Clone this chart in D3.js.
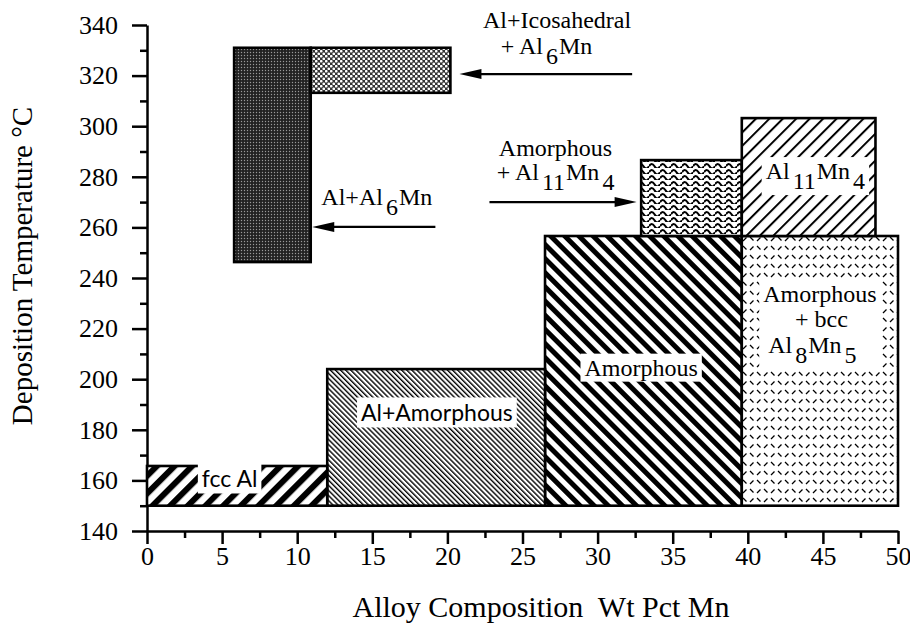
<!DOCTYPE html>
<html>
<head>
<meta charset="utf-8">
<script src="https://cdn.jsdelivr.net/npm/d3@7"></script>
<style>
  body { margin: 0; background: #fff; }
  svg { display: block; }
</style>
</head>
<body>
<svg id="chart" width="910" height="630"></svg>
<script>
// Phase fields observed after deposition (composition in wt% Mn, temperature in °C)
const phases   = ["Amorphous", "Amorphous + bcc Al8Mn5", "Al+Amorphous", "fcc Al",
                  "Amorphous + Al11Mn4", "Al11Mn4", "Al+Al6Mn", "Al+Icosahedral + Al6Mn"];
const wtFrom   = [26.5, 39.6, 12.0, 0.0, 32.9, 39.6, 5.8, 10.9];
const wtTo     = [39.6, 50.0, 26.5, 12.0, 39.6, 48.5, 10.9, 20.2];
const tempFrom = [150, 150, 150, 150, 256.6, 256.6, 246.3, 313.2];
const tempTo   = [256.6, 256.6, 204, 165.7, 286.6, 303.2, 331, 331];

// Arrows pointing from the phase names to their fields
const arrowWtFrom = [32.3, 19.2, 22.8];
const arrowWtTo   = [20.8, 11.0, 32.6];
const arrowTemp   = [320.6, 260.2, 270.0];

// Text annotations ("_" marks a subscript run)
const labelText  = ["Al+Icosahedral", "+ Al_6Mn", "Al+Al_6Mn", "Amorphous", "+ Al_11Mn_4",
                    "Al_11Mn_4", "Amorphous", "+ bcc", "Al_8Mn_5", "Amorphous", "Al+Amorphous", "fcc Al"];
const labelWt    = [27.3, 26.6, 15.3, 27.2, 27.2, 44.5, 44.8, 44.9, 44.3, 32.9, 19.3, 5.5];
const labelTemp  = [338.8, 328.4, 268.9, 288.4, 278.7, 279.1, 230.5, 220.6, 210.4, 201.4, 183.3, 157.2];
const labelGroup = [0, 0, 1, 2, 2, 3, 4, 4, 4, 5, 6, 7];

// Axis ticks
const xTicks      = [0, 5, 10, 15, 20, 25, 30, 35, 40, 45, 50];
const xMinorTicks = [2.5, 7.5, 12.5, 17.5, 22.5, 27.5, 32.5, 37.5, 42.5, 47.5];
const yTicks      = [140, 160, 180, 200, 220, 240, 260, 280, 300, 320, 340];
const yMinorTicks = [150, 170, 190, 210, 230, 250, 270, 290, 310, 330];

const xTitle = "Alloy Composition  Wt Pct Mn";
const yTitle = "Deposition Temperature °C";

const svg = d3.select("#chart");
const x = d3.scaleLinear().domain([0, 50]).range([147, 898]);
const y = d3.scaleLinear().domain([140, 340]).range([531, 25]);

const serif = "'Liberation Serif', 'Times New Roman', serif";
const sans  = "Lato, 'Open Sans', sans-serif";

// ---- fill patterns ----
const defs = svg.append("defs");
function hatch(id, spacing, width, angle) {
  const p = defs.append("pattern").attr("id", id)
    .attr("patternUnits", "userSpaceOnUse")
    .attr("width", spacing).attr("height", spacing)
    .attr("patternTransform", `rotate(${angle})`);
  p.append("rect").attr("width", spacing).attr("height", spacing).attr("fill", "#fff");
  p.append("rect").attr("width", width).attr("height", spacing).attr("fill", "#000");
}
hatch("p-fcc", 12.5, 6, 45);
hatch("p-fine", 3.6, 1.4, -45);
hatch("p-bold", 10, 5, -45);
hatch("p-thin", 9.5, 2, 45);

const wv = defs.append("pattern").attr("id", "p-waves")
  .attr("patternUnits", "userSpaceOnUse").attr("width", 11).attr("height", 6);
wv.append("rect").attr("width", 11).attr("height", 6).attr("fill", "#fff");
wv.append("path").attr("d", "M0,4.3 Q2.75,-0.2 5.5,4.3 T11,4.3")
  .attr("fill", "none").attr("stroke", "#000").attr("stroke-width", 2);

const dk = defs.append("pattern").attr("id", "p-dark")
  .attr("patternUnits", "userSpaceOnUse").attr("width", 3).attr("height", 3);
dk.append("rect").attr("width", 3).attr("height", 3).attr("fill", "#222");
dk.append("circle").attr("cx", 1.5).attr("cy", 1.5).attr("r", 0.7).attr("fill", "#999");

const ck = defs.append("pattern").attr("id", "p-check")
  .attr("patternUnits", "userSpaceOnUse").attr("width", 5).attr("height", 5);
ck.append("rect").attr("width", 5).attr("height", 5).attr("fill", "#333");
ck.append("circle").attr("cx", 1.25).attr("cy", 1.25).attr("r", 1.35).attr("fill", "#fff");
ck.append("circle").attr("cx", 3.75).attr("cy", 3.75).attr("r", 1.35).attr("fill", "#fff");

const ds = defs.append("pattern").attr("id", "p-dash")
  .attr("patternUnits", "userSpaceOnUse").attr("width", 14).attr("height", 18);
ds.append("rect").attr("width", 14).attr("height", 18).attr("fill", "#fff");
ds.append("path").attr("d", "M1,7 L4.5,3.5 M8,3 L11.5,6.5 M8,16 L11.5,12.5 M1,12 L4.5,15.5")
  .attr("stroke", "#000").attr("stroke-width", 1.3).attr("fill", "none");

const phaseFill = {
  "fcc Al": "p-fcc",
  "Al+Amorphous": "p-fine",
  "Amorphous": "p-bold",
  "Amorphous + bcc Al8Mn5": "p-dash",
  "Amorphous + Al11Mn4": "p-waves",
  "Al11Mn4": "p-thin",
  "Al+Al6Mn": "p-dark",
  "Al+Icosahedral + Al6Mn": "p-check"
};

// ---- axes ----
function styleAxis(g) {
  g.selectAll("path.domain").attr("stroke", "#000").attr("stroke-width", 2.5);
  g.selectAll(".tick line").attr("stroke", "#000").attr("stroke-width", 2.5);
  g.selectAll(".tick text").attr("font-family", serif).attr("font-size", 26).attr("fill", "#000");
}
const gx = svg.append("g").attr("transform", `translate(0,${y(140)})`)
  .call(d3.axisBottom(x).tickValues(xTicks).tickSize(13).tickSizeOuter(0).tickPadding(3).tickFormat(d3.format("d")));
styleAxis(gx);
const gxm = svg.append("g").attr("transform", `translate(0,${y(140)})`)
  .call(d3.axisBottom(x).tickValues(xMinorTicks).tickSize(7).tickFormat(""));
gxm.select("path.domain").remove();
styleAxis(gxm);

const gy = svg.append("g").attr("transform", `translate(${x(0)},0)`)
  .call(d3.axisLeft(y).tickValues(yTicks).tickSize(15).tickSizeOuter(0).tickPadding(14).tickFormat(d3.format("d")));
styleAxis(gy);
const gym = svg.append("g").attr("transform", `translate(${x(0)},0)`)
  .call(d3.axisLeft(y).tickValues(yMinorTicks).tickSize(7).tickFormat(""));
gym.select("path.domain").remove();
styleAxis(gym);

svg.append("text").attr("x", 541).attr("y", 617).attr("text-anchor", "middle")
  .attr("font-family", serif).attr("font-size", 30).attr("xml:space", "preserve")
  .style("white-space", "pre").text(xTitle);
svg.append("text").attr("transform", "translate(32,266) rotate(-90)").attr("text-anchor", "middle")
  .attr("font-family", serif).attr("font-size", 29).text(yTitle);

// ---- phase fields ----
const fields = phases.map((p, i) => ({ name: p, x0: wtFrom[i], x1: wtTo[i], t0: tempFrom[i], t1: tempTo[i] }));
svg.append("g").selectAll("rect").data(fields).join("rect")
  .attr("x", d => x(d.x0)).attr("y", d => y(d.t1))
  .attr("width", d => x(d.x1) - x(d.x0)).attr("height", d => y(d.t0) - y(d.t1))
  .attr("fill", d => `url(#${phaseFill[d.name]})`)
  .attr("stroke", "#000").attr("stroke-width", 2.6);

// ---- arrows ----
const arrows = arrowWtFrom.map((a, i) => ({ x0: x(a), x1: x(arrowWtTo[i]), yy: y(arrowTemp[i]) }));
const ga = svg.append("g");
arrows.forEach(a => {
  const dir = Math.sign(a.x1 - a.x0), head = 22, half = 5;
  ga.append("line").attr("x1", a.x0).attr("x2", a.x1 - dir * head * 0.8)
    .attr("y1", a.yy).attr("y2", a.yy).attr("stroke", "#000").attr("stroke-width", 2.4);
  ga.append("path")
    .attr("d", `M${a.x1},${a.yy} L${a.x1 - dir * head},${a.yy - half} L${a.x1 - dir * head},${a.yy + half} Z`)
    .attr("fill", "#000");
});

// ---- labels ----
const sansGroups = new Set([6, 7]);
const gl = svg.append("g");
const bgGroups = new Set([3, 4, 5, 6, 7]);
const groupNodes = {};
labelText.forEach((txt, i) => {
  const grp = labelGroup[i];
  const t = gl.append("text")
    .attr("x", x(labelWt[i])).attr("y", y(labelTemp[i]))
    .attr("text-anchor", "middle")
    .attr("font-family", sansGroups.has(grp) ? sans : serif)
    .attr("font-size", sansGroups.has(grp) ? 23 : 24)
    .attr("fill", "#000")
    .attr("xml:space", "preserve").style("white-space", "pre");
  const parts = txt.split(/(_\d+)/).filter(s => s.length);
  let shifted = false;
  parts.forEach(s => {
    if (s.startsWith("_")) {
      t.append("tspan").attr("dx", 3).attr("dy", 10).text(s.slice(1));
      shifted = true;
    } else {
      const ts = t.append("tspan").text(s);
      if (shifted) { ts.attr("dy", -10).attr("dx", 1); shifted = false; }
    }
  });
  (groupNodes[grp] = groupNodes[grp] || []).push(t);
});
// white patches behind labels that sit on hatched fields
Object.keys(groupNodes).forEach(k => {
  if (!bgGroups.has(+k)) return;
  const boxes = groupNodes[k].map(t => t.node().getBBox());
  const x0 = d3.min(boxes, b => b.x) - 4, x1 = d3.max(boxes, b => b.x + b.width) + 4;
  const y0 = d3.min(boxes, b => b.y) - 1, y1 = d3.max(boxes, b => b.y + b.height) + 1;
  gl.insert("rect", ":first-child")
    .attr("x", x0).attr("y", y0).attr("width", x1 - x0).attr("height", y1 - y0)
    .attr("fill", "#fff");
});
</script>
</body>
</html>
